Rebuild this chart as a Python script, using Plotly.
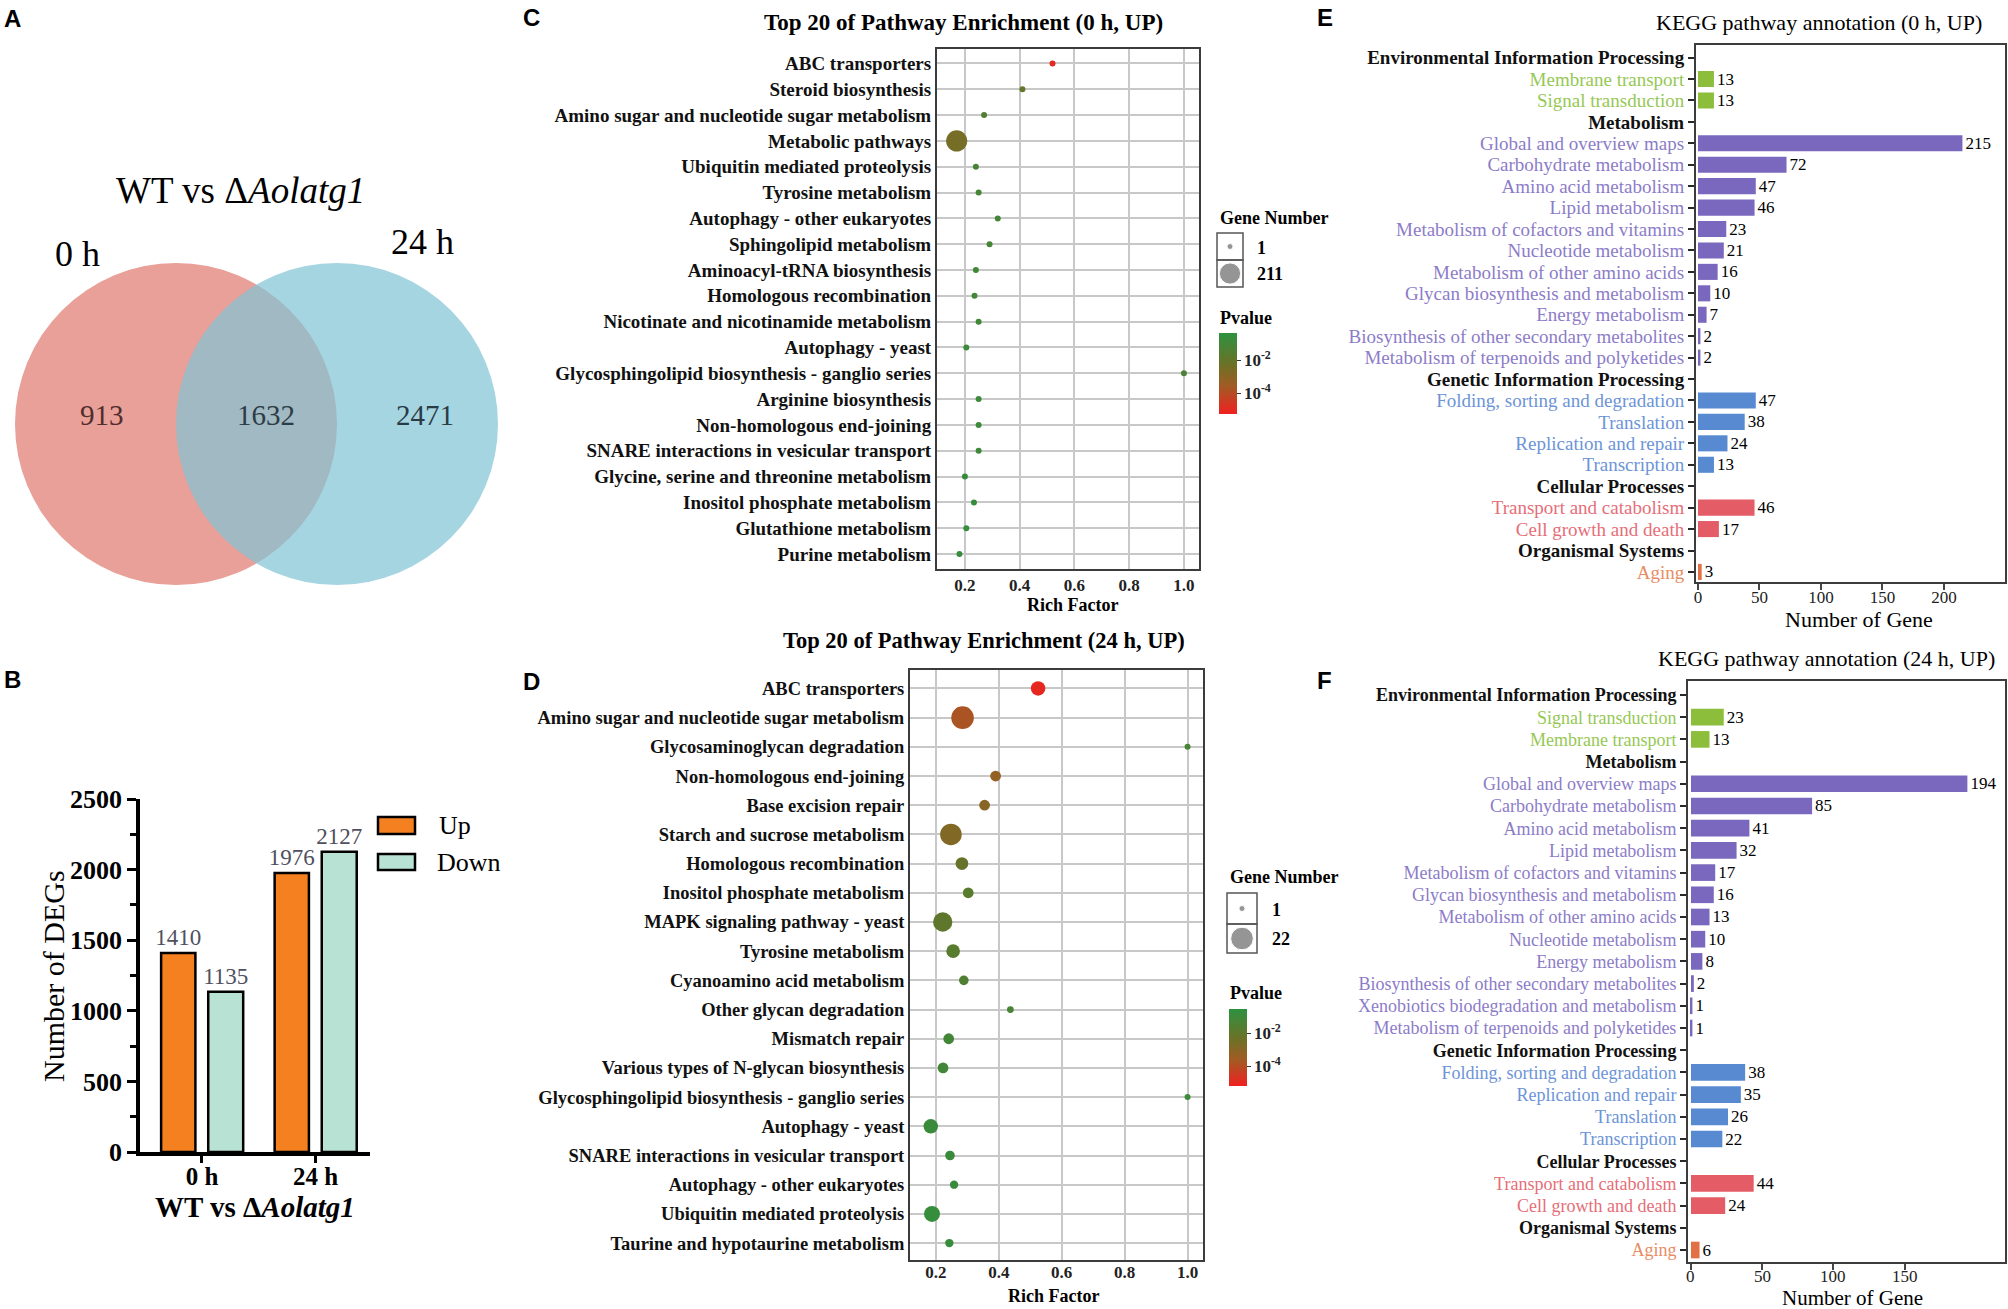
import numpy as np
import plotly.graph_objects as go

W, H = 2008, 1309
SERIF = "Liberation Serif"
SANS = "Liberation Sans"

# ------------------------------------------------------------------ data
venn_labels = ["0 h", "24 h"]
venn_counts = [913, 1632, 2471]          # only 0 h, shared, only 24 h

deg_times = ["0 h", "24 h"]
deg_up = [1410, 1976]
deg_down = [1135, 2127]

c_pathways = ["ABC transporters", "Steroid biosynthesis",
              "Amino sugar and nucleotide sugar metabolism", "Metabolic pathways",
              "Ubiquitin mediated proteolysis", "Tyrosine metabolism",
              "Autophagy - other eukaryotes", "Sphingolipid metabolism",
              "Aminoacyl-tRNA biosynthesis", "Homologous recombination",
              "Nicotinate and nicotinamide metabolism", "Autophagy - yeast",
              "Glycosphingolipid biosynthesis - ganglio series", "Arginine biosynthesis",
              "Non-homologous end-joining", "SNARE interactions in vesicular transport",
              "Glycine, serine and threonine metabolism", "Inositol phosphate metabolism",
              "Glutathione metabolism", "Purine metabolism"]
c_rich = [0.52, 0.41, 0.27, 0.17, 0.24, 0.25, 0.32, 0.29, 0.24, 0.235,
          0.25, 0.205, 1.0, 0.25, 0.25, 0.25, 0.2, 0.233, 0.205, 0.18]
c_genes = [6, 4, 5, 211, 5, 4, 3, 3, 4, 4, 3, 4, 1, 3, 3, 3, 4, 4, 4, 5]
c_pvalue = [1e-5, 0.01, 0.03, 0.003, 0.06, 0.08, 0.08, 0.08, 0.1, 0.1,
            0.1, 0.15, 0.05, 0.15, 0.15, 0.15, 0.2, 0.2, 0.25, 0.25]

d_pathways = ["ABC transporters", "Amino sugar and nucleotide sugar metabolism",
              "Glycosaminoglycan degradation", "Non-homologous end-joining",
              "Base excision repair", "Starch and sucrose metabolism",
              "Homologous recombination", "Inositol phosphate metabolism",
              "MAPK signaling pathway - yeast", "Tyrosine metabolism",
              "Cyanoamino acid metabolism", "Other glycan degradation",
              "Mismatch repair", "Various types of N-glycan biosynthesis",
              "Glycosphingolipid biosynthesis - ganglio series", "Autophagy - yeast",
              "SNARE interactions in vesicular transport", "Autophagy - other eukaryotes",
              "Ubiquitin mediated proteolysis", "Taurine and hypotaurine metabolism"]
d_rich = [0.525, 0.285, 1.0, 0.39, 0.355, 0.248, 0.283, 0.303, 0.222, 0.255,
          0.289, 0.437, 0.241, 0.223, 1.0, 0.184, 0.245, 0.258, 0.188, 0.243]
d_genes = [9, 22, 1, 5, 5, 20, 7, 5, 16, 8, 4, 2, 5, 5, 1, 9, 4, 3, 11, 3]
d_pvalue = [1e-5, 1.6e-4, 0.05, 5e-4, 1e-3, 1.3e-3, 6e-3, 0.015, 0.01, 0.015,
            0.025, 0.05, 0.06, 0.06, 0.1, 0.12, 0.12, 0.12, 0.15, 0.15]

kegg_groups = ["Environmental Information Processing", "Metabolism",
               "Genetic Information Processing", "Cellular Processes",
               "Organismal Systems"]

e_pathways = ["Membrane transport", "Signal transduction",
              "Global and overview maps", "Carbohydrate metabolism",
              "Amino acid metabolism", "Lipid metabolism",
              "Metabolism of cofactors and vitamins", "Nucleotide metabolism",
              "Metabolism of other amino acids", "Glycan biosynthesis and metabolism",
              "Energy metabolism", "Biosynthesis of other secondary metabolites",
              "Metabolism of terpenoids and polyketides",
              "Folding, sorting and degradation", "Translation",
              "Replication and repair", "Transcription",
              "Transport and catabolism", "Cell growth and death", "Aging"]
e_group = [0, 0, 1, 1, 1, 1, 1, 1, 1, 1, 1, 1, 1, 2, 2, 2, 2, 3, 3, 4]
e_counts = [13, 13, 215, 72, 47, 46, 23, 21, 16, 10, 7, 2, 2, 47, 38, 24, 13, 46, 17, 3]
e_ticks = [0, 50, 100, 150, 200]

f_pathways = ["Signal transduction", "Membrane transport",
              "Global and overview maps", "Carbohydrate metabolism",
              "Amino acid metabolism", "Lipid metabolism",
              "Metabolism of cofactors and vitamins", "Glycan biosynthesis and metabolism",
              "Metabolism of other amino acids", "Nucleotide metabolism",
              "Energy metabolism", "Biosynthesis of other secondary metabolites",
              "Xenobiotics biodegradation and metabolism",
              "Metabolism of terpenoids and polyketides",
              "Folding, sorting and degradation", "Replication and repair",
              "Translation", "Transcription",
              "Transport and catabolism", "Cell growth and death", "Aging"]
f_group = [0, 0, 1, 1, 1, 1, 1, 1, 1, 1, 1, 1, 1, 1, 2, 2, 2, 2, 3, 3, 4]
f_counts = [23, 13, 194, 85, 41, 32, 17, 16, 13, 10, 8, 2, 1, 1, 38, 35, 26, 22, 44, 24, 6]
f_ticks = [0, 50, 100, 150]

# ------------------------------------------------------------------ styles
bar_colors = ["rgb(140,190,60)", "rgb(122,104,190)", "rgb(88,138,210)",
              "rgb(228,92,102)", "rgb(226,112,70)"]
label_colors = ["rgb(150,200,85)", "rgb(140,124,200)", "rgb(108,148,215)",
                "rgb(230,110,120)", "rgb(232,140,100)"]
pv_scale = [[0.0, "rgb(240,32,32)"], [0.35, "rgb(160,92,36)"],
            [0.6, "rgb(110,112,38)"], [1.0, "rgb(44,146,64)"]]


def dx(a, b):
    return [a / W, b / W]


def dy(top, bottom):
    return [1 - bottom / H, 1 - top / H]


fig = go.Figure()
ann = []
shapes = []


def text(x, y, s, size, bold=False, color="black", xanchor="center",
         family=SERIF, angle=0, xref="x"):
    ann.append(dict(x=x, y=y, xref=xref, yref="y", text=s, showarrow=False,
                    xanchor=xanchor, yanchor="middle", textangle=angle,
                    font=dict(family=family, size=size, color=color,
                              weight="bold" if bold else "normal")))


# ------------------------------------------------------------------ panel A (Venn)
r = 161
shapes.append(dict(type="circle", xref="x", yref="y", x0=176 - r, x1=176 + r,
                   y0=424 - r, y1=424 + r, fillcolor="rgb(233,160,152)",
                   line=dict(width=0), layer="below"))
shapes.append(dict(type="circle", xref="x", yref="y", x0=337 - r, x1=337 + r,
                   y0=424 - r, y1=424 + r, fillcolor="rgb(128,195,214)",
                   opacity=0.7, line=dict(width=0), layer="below"))
text(240, 190, "WT vs Δ<i>Aolatg1</i>", 37)
text(77, 254, venn_labels[0], 36)
text(422, 242, venn_labels[1], 36)
for xx, v, col in zip([102, 266, 425], venn_counts,
                      ["rgb(80,45,45)", "rgb(45,60,70)", "rgb(40,60,70)"]):
    text(xx, 415, str(v), 29, color=col)

# ------------------------------------------------------------------ panel B (bars)
fig.add_trace(go.Bar(x=deg_times, y=deg_up, width=0.302, offset=-0.36,
                     marker=dict(color="rgb(245,128,32)", line=dict(color="black", width=2.5)),
                     text=[str(v) for v in deg_up], textposition="outside",
                     constraintext="none",
                     textfont=dict(family=SERIF, size=23, color="rgb(80,80,95)"),
                     cliponaxis=False, xaxis="x2", yaxis="y2"))
fig.add_trace(go.Bar(x=deg_times, y=deg_down, width=0.308, offset=0.055,
                     marker=dict(color="rgb(184,226,212)", line=dict(color="black", width=2.5)),
                     text=[str(v) for v in deg_down], textposition="outside",
                     constraintext="none",
                     textfont=dict(family=SERIF, size=23, color="rgb(80,80,95)"),
                     cliponaxis=False, xaxis="x2", yaxis="y2"))
# legend of B
shapes.append(dict(type="rect", xref="x", yref="y", x0=378, x1=415, y0=817, y1=834,
                   fillcolor="rgb(245,128,32)", line=dict(color="black", width=2.5)))
shapes.append(dict(type="rect", xref="x", yref="y", x0=378, x1=415, y0=854, y1=870,
                   fillcolor="rgb(184,226,212)", line=dict(color="black", width=2.5)))
text(437, 825, "Up", 26, xanchor="left")
text(435, 862, "Down", 26, xanchor="left")
text(53, 976, "Number of DEGs", 30, angle=-90)
text(255, 1207, "<b>WT vs Δ<i>Aolatg1</i></b>", 29)

# ------------------------------------------------------------------ panels C, D (bubbles)
c_sizeref = 211 / 15 ** 2
d_sizeref = 22 / 16 ** 2

fig.add_trace(go.Scatter(
    x=c_rich, y=c_pathways, mode="markers", xaxis="x3", yaxis="y3",
    marker=dict(size=c_genes, sizemode="area", sizeref=c_sizeref, sizemin=3,
                color=np.log10(c_pvalue), colorscale=pv_scale, cmin=-5.27, cmax=-0.36,
                line=dict(width=0), opacity=1,
                colorbar=dict(x=1219 / W, xanchor="left", y=1 - 333 / H, yanchor="top",
                              len=81, lenmode="pixels", thickness=18, thicknessmode="pixels",
                              xpad=0, ypad=0, outlinewidth=0, tickvals=[-2, -4],
                              ticktext=["10<sup>-2</sup>", "10<sup>-4</sup>"],
                              ticks="outside", ticklen=4, tickcolor="#333",
                              tickfont=dict(family=SERIF, size=17, color="#222", weight="bold")))))
fig.add_trace(go.Scatter(
    x=d_rich, y=d_pathways, mode="markers", xaxis="x4", yaxis="y4",
    marker=dict(size=d_genes, sizemode="area", sizeref=d_sizeref, sizemin=3,
                color=np.log10(d_pvalue), colorscale=pv_scale, cmin=-5.2, cmax=-0.55,
                line=dict(width=0), opacity=1,
                colorbar=dict(x=1229 / W, xanchor="left", y=1 - 1009 / H, yanchor="top",
                              len=77, lenmode="pixels", thickness=18, thicknessmode="pixels",
                              xpad=0, ypad=0, outlinewidth=0, tickvals=[-2, -4],
                              ticktext=["10<sup>-2</sup>", "10<sup>-4</sup>"],
                              ticks="outside", ticklen=4, tickcolor="#333",
                              tickfont=dict(family=SERIF, size=17, color="#222", weight="bold")))))

# size legends
fig.add_trace(go.Scatter(x=[1230, 1230], y=[246.5, 273.5], mode="markers",
                         marker=dict(size=[1, 211], sizemode="area", sizeref=c_sizeref,
                                     sizemin=3, color="rgb(105,105,105)"),
                         xaxis="x", yaxis="y"))
fig.add_trace(go.Scatter(x=[1242, 1242], y=[908.5, 938.5], mode="markers",
                         marker=dict(size=[1, 22], sizemode="area", sizeref=d_sizeref,
                                     sizemin=3, color="rgb(105,105,105)"),
                         xaxis="x", yaxis="y"))
for (x0, x1, y0, ym, y1) in [(1217, 1243, 233, 260, 287), (1227, 1257, 893, 924, 953)]:
    shapes.append(dict(type="rect", xref="x", yref="y", x0=x0, x1=x1, y0=y0, y1=ym,
                       line=dict(color="#555", width=1.5)))
    shapes.append(dict(type="rect", xref="x", yref="y", x0=x0, x1=x1, y0=ym, y1=y1,
                       line=dict(color="#555", width=1.5)))
text(1218, 218, "Gene Number", 18, bold=True, xanchor="left")
text(1255, 248, "1", 18, bold=True, xanchor="left")
text(1255, 274, "211", 18, bold=True, xanchor="left")
text(1218, 318, "Pvalue", 18, bold=True, xanchor="left")
text(1228, 877, "Gene Number", 18, bold=True, xanchor="left")
text(1270, 910, "1", 18, bold=True, xanchor="left")
text(1270, 939, "22", 18, bold=True, xanchor="left")
text(1228, 993, "Pvalue", 18, bold=True, xanchor="left")

text(963, 22, "Top 20 of Pathway Enrichment (0 h, UP)", 23, bold=True)
text(1072, 605, "Rich Factor", 18, bold=True)
text(984, 640, "Top 20 of Pathway Enrichment (24 h, UP)", 22.5, bold=True)
text(1053, 1296, "Rich Factor", 18, bold=True)


# ------------------------------------------------------------------ panels E, F (KEGG bars)
def kegg_rows(paths, groups, counts):
    labels, ys, xs, cols = [], [], [], []
    row = 0
    for g, gname in enumerate(kegg_groups):
        labels.append("<b>%s</b>" % gname)
        row += 1
        for p, gi, c in zip(paths, groups, counts):
            if gi == g:
                labels.append('<span style="color:%s">%s</span>' % (label_colors[g], p))
                ys.append(row)
                xs.append(c)
                cols.append(bar_colors[g])
                row += 1
    return labels, ys, xs, cols


e_labels, e_y, e_x, e_cols = kegg_rows(e_pathways, e_group, e_counts)
f_labels, f_y, f_x, f_cols = kegg_rows(f_pathways, f_group, f_counts)

for xs, ys, cols, xa, ya in [(e_x, e_y, e_cols, "x5", "y5"), (f_x, f_y, f_cols, "x6", "y6")]:
    fig.add_trace(go.Bar(x=xs, y=ys, orientation="h", width=0.75,
                         marker=dict(color=cols, line=dict(width=0)),
                         text=[str(v) for v in xs], textposition="outside",
                         constraintext="none", cliponaxis=False,
                         textfont=dict(family=SERIF, size=17, color="black"),
                         xaxis=xa, yaxis=ya))

# x tick labels of F placed on the axis's own data scale
for t in f_ticks:
    text(t, 1276, str(t), 17, color="#222", xref="x6")

text(1819, 22, "KEGG pathway annotation (0 h, UP)", 22)
text(1859, 619, "Number of Gene", 22)
text(1826, 658, "KEGG pathway annotation (24 h, UP)", 22)
text(1852, 1298, "Number of Gene", 21)

# panel letters
for lx, ly, s in [(2, 18, "A"), (2, 679, "B"), (521, 17, "C"), (521, 681, "D"),
                  (1315, 17, "E"), (1315, 680, "F")]:
    text(lx, ly, s, 24, bold=True, xanchor="left", family=SANS)

# ------------------------------------------------------------------ layout
frame = dict(showline=True, mirror=True, linecolor="rgb(60,60,60)", linewidth=2,
             zeroline=False, automargin=False)
bub_x = dict(frame, showgrid=True, gridcolor="rgb(200,200,200)", gridwidth=1.5,
             tickvals=[0.2, 0.4, 0.6, 0.8, 1.0], ticktext=["0.2", "0.4", "0.6", "0.8", "1.0"],
             ticks="", tickfont=dict(family=SERIF, size=17, color="#222", weight="bold"))
bub_y = dict(frame, showgrid=True, gridcolor="rgb(200,200,200)", gridwidth=1.5,
             ticks="", type="category")
kegg_x = dict(frame, showgrid=False, ticks="outside", tickcolor="rgb(70,70,70)",
              tickwidth=1.5, tickfont=dict(family=SERIF, size=17, color="#222"))
kegg_y = dict(frame, showgrid=False, ticks="outside", ticklen=6, tickcolor="rgb(40,40,40)",
              tickwidth=1.5)

fig.update_layout(
    width=W, height=H, margin=dict(l=0, r=0, t=0, b=0, pad=0, autoexpand=False),
    paper_bgcolor="white", plot_bgcolor="rgba(0,0,0,0)",
    showlegend=False, barmode="overlay",
    shapes=shapes, annotations=ann,
    xaxis=dict(domain=[0, 1], range=[0, W], visible=False, fixedrange=True, automargin=False),
    yaxis=dict(domain=[0, 1], range=[H, 0], visible=False, fixedrange=True, automargin=False),
    xaxis2=dict(domain=dx(140, 370), anchor="y2", range=[-0.546, 1.48], automargin=False,
                showline=True, linecolor="black", linewidth=3.5, ticks="outside",
                ticklen=7, tickwidth=3, tickcolor="black", showgrid=False,
                ticklabelstandoff=-8,
                tickfont=dict(family=SERIF, size=25, color="black", weight="bold")),
    yaxis2=dict(domain=dy(799, 1152), anchor="x2", range=[0, 2500], dtick=500,
                automargin=False,
                showline=True, linecolor="black", linewidth=3.5, ticks="outside",
                ticklen=9, tickwidth=3, tickcolor="black", showgrid=False, zeroline=False,
                minor=dict(dtick=250, ticks="outside", ticklen=6, tickwidth=2.5,
                           tickcolor="black", showgrid=False),
                tickfont=dict(family=SERIF, size=26, color="black", weight="bold")),
    xaxis3=dict(bub_x, domain=dx(937, 1199), anchor="y3", range=[0.098, 1.055]),
    yaxis3=dict(bub_y, domain=dy(48.5, 569), anchor="x3", range=[19.58, -0.58],
                tickfont=dict(family=SERIF, size=19, color="#111", weight="bold")),
    xaxis4=dict(bub_x, domain=dx(910, 1203), anchor="y4", range=[0.118, 1.049],
                ticklabelstandoff=-4),
    yaxis4=dict(bub_y, domain=dy(669.5, 1260), anchor="x4", range=[19.58, -0.65],
                tickfont=dict(family=SERIF, size=18.5, color="#111", weight="bold")),
    xaxis5=dict(kegg_x, domain=dx(1696, 2005), anchor="y5", range=[-1.6, 249.6],
                ticklen=6, ticklabelstandoff=-7, tickvals=e_ticks),
    yaxis5=dict(kegg_y, domain=dy(44.5, 582), anchor="x5", range=[24.47, -0.61],
                tickvals=list(range(len(e_labels))), ticktext=e_labels,
                tickfont=dict(family=SERIF, size=19, color="#111")),
    xaxis6=dict(kegg_x, domain=dx(1688, 2005), anchor="y6", range=[-2.1, 220.4],
                ticklen=6, tickvals=f_ticks, showticklabels=False),
    yaxis6=dict(kegg_y, domain=dy(681, 1262), anchor="x6", range=[25.54, -0.63],
                tickvals=list(range(len(f_labels))), ticktext=f_labels,
                tickfont=dict(family=SERIF, size=18, color="#111")),
)

fig.write_html("out.html", config={"displayModeBar": False},
               post_script="document.body.style.margin='0px';"
                           "document.body.style.overflow='hidden';")
